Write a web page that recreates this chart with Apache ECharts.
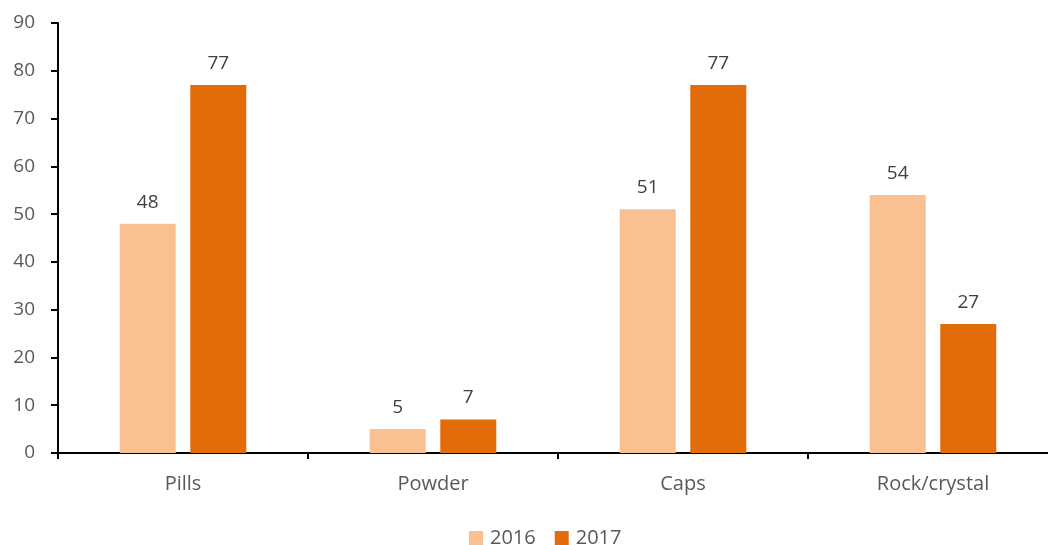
<!DOCTYPE html>
<html>
<head>
<meta charset="utf-8">
<script src="https://cdn.jsdelivr.net/npm/echarts@6/dist/echarts.min.js"></script>
<style>
  html, body { margin: 0; padding: 0; background: #fff; }
  #chart { width: 1048px; height: 545px; }
</style>
</head>
<body>
<div id="chart"></div>
<script>
  var categories = ['Pills', 'Powder', 'Caps', 'Rock/crystal'];
  var values2016 = [48, 5, 51, 54];
  var values2017 = [77, 7, 77, 27];
  var yTicks = { min: 0, max: 90, interval: 10 };

  var TEXT = '#595959';
  var FONT = 'Open Sans';

  function barSeries(name, data, color) {
    return {
      name: name,
      type: 'bar',
      data: data,
      barWidth: 56,
      barGap: '26%',
      itemStyle: { color: color },
      label: {
        show: true,
        position: 'top',
        distance: 12,
        color: '#404040',
        fontFamily: FONT,
        fontSize: 19
      }
    };
  }

  var chart = echarts.init(document.getElementById('chart'), null, { renderer: 'canvas' });
  chart.setOption({
    animation: false,
    grid: { left: 58, width: 1000, top: 23, bottom: 92, containLabel: false, outerBoundsMode: 'none' },
    legend: {
      bottom: -8,
      left: 464,
      itemWidth: 14,
      itemHeight: 14,
      itemGap: 19,
      icon: 'rect',
      textStyle: { color: TEXT, fontFamily: FONT, fontSize: 20, padding: [0, 0, 0, 2] }
    },
    xAxis: {
      type: 'category',
      data: categories,
      axisLine: { lineStyle: { color: '#000', width: 2 } },
      axisTick: { show: true, length: 6, lineStyle: { color: '#000', width: 2 } },
      axisLabel: { color: TEXT, fontFamily: FONT, fontSize: 20, margin: 21 }
    },
    yAxis: {
      type: 'value',
      min: yTicks.min,
      max: yTicks.max,
      interval: yTicks.interval,
      axisLine: { show: true, lineStyle: { color: '#000', width: 2 } },
      axisTick: { show: true, length: 7, lineStyle: { color: '#000', width: 2 } },
      axisLabel: { color: TEXT, fontFamily: FONT, fontSize: 19, margin: 23 },
      splitLine: { show: false }
    },
    series: [
      barSeries('2016', values2016, '#F9C192'),
      barSeries('2017', values2017, '#E36C0A')
    ]
  });
</script>
</body>
</html>
